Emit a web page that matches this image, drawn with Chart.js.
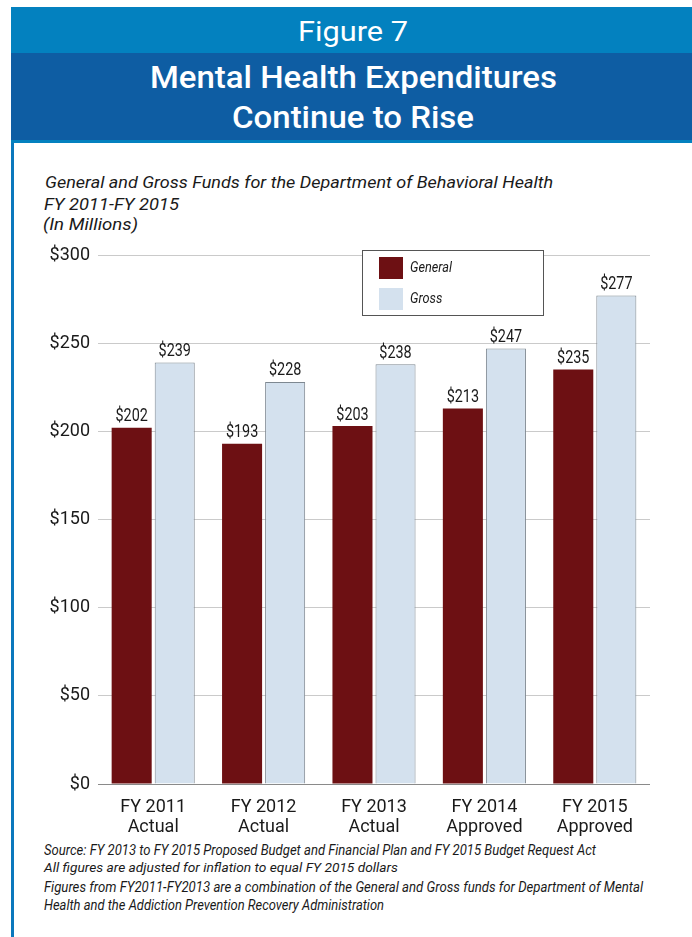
<!DOCTYPE html>
<html lang="en">
<head>
    <meta charset="UTF-8">
    <title>Figure 7 - Mental Health Expenditures</title>
    <script src="https://cdn.jsdelivr.net/npm/chart.js"></script>
    <style>
        body { margin: 0; background: #fff; width: 692px; height: 937px; position: relative; overflow: hidden; font-family: Roboto, sans-serif; }
        #band1 { position: absolute; left: 11px; top: 7px; right: 0; height: 46px; background: #0381bf; }
        #band2 { position: absolute; left: 11px; top: 53px; right: 0; height: 87px; background: #0e5da3; border-bottom: 3px solid #0381bf; }
        #edge { position: absolute; left: 11px; top: 7px; width: 3px; bottom: 0; background: #0a78bd; }
        .t { position: absolute; white-space: nowrap; transform-origin: 0 0; }
        .hd { color: #fff; }
        .it { font-style: italic; color: #1a1a1a; }
        #box { position: absolute; left: 14px; top: 230px; width: 678px; height: 609px; }
    </style>
</head>
<body>
    <div id="edge"></div>
    <div id="band1"></div>
    <div id="band2"></div>

    <div class="t hd" data-w="110" style="left:298px; top:18px; font-size:28px; line-height:28px;">Figure 7</div>
    <div class="t hd" data-w="407" style="left:150px; top:62px; font-size:31px; line-height:31px; font-weight:500;">Mental Health Expenditures</div>
    <div class="t hd" data-w="242" style="left:232px; top:102px; font-size:31px; line-height:31px; font-weight:500;">Continue to Rise</div>

    <div class="t it" data-w="508" style="left:45px; top:172px; font-size:17px; line-height:20px;">General and Gross Funds for the Department of Behavioral Health</div>
    <div class="t it" data-w="135" style="left:44px; top:194px; font-size:17px; line-height:20px;">FY 2011-FY 2015</div>
    <div class="t it" data-w="95" style="left:43px; top:214px; font-size:17px; line-height:20px;">(In Millions)</div>

    <div id="box"><canvas id="chart"></canvas></div>

    <div class="t it" data-w="552" style="left:44px; top:841px; font-size:14px; line-height:18px;">Source: FY 2013 to FY 2015 Proposed Budget and Financial Plan and FY 2015 Budget Request Act</div>
    <div class="t it" data-w="354" style="left:44px; top:859px; font-size:13px; line-height:18px;">All figures are adjusted for inflation to equal FY 2015 dollars</div>
    <div class="t it" data-w="599" style="left:44px; top:878px; font-size:14px; line-height:18px;">Figures from FY2011-FY2013 are a combination of the General and Gross funds for Department of Mental</div>
    <div class="t it" data-w="340" style="left:44px; top:896px; font-size:14px; line-height:18px;">Health and the Addiction Prevention Recovery Administration</div>

    <script>
        // chart data
        const years = ['FY 2011', 'FY 2012', 'FY 2013', 'FY 2014', 'FY 2015'];
        const status = ['Actual', 'Actual', 'Actual', 'Approved', 'Approved'];
        const generalFunds = [202, 193, 203, 213, 235];
        const grossFunds = [239, 228, 238, 247, 277];
        const yTicks = [0, 50, 100, 150, 200, 250, 300];

        // squeeze the html texts to the condensed widths of the original
        document.querySelectorAll('.t').forEach(el => {
            const w = el.getBoundingClientRect().width;
            el.style.transform = 'scaleX(' + (el.dataset.w / w) + ')';
        });

        // condensed text on the canvas
        function narrowText(ctx, text, x, y, sx) {
            ctx.save();
            ctx.translate(x, y);
            ctx.scale(sx, 1);
            ctx.fillText(text, 0, 0);
            ctx.restore();
        }

        // value labels above each bar
        const barLabels = {
            id: 'barLabels',
            afterDatasetsDraw(chart) {
                const ctx = chart.ctx;
                ctx.save();
                ctx.font = '18px Roboto';
                ctx.fillStyle = '#1a1a1a';
                ctx.textAlign = 'center';
                ctx.textBaseline = 'bottom';
                chart.data.datasets.forEach((ds, i) => {
                    chart.getDatasetMeta(i).data.forEach((bar, j) => {
                        narrowText(ctx, '$' + ds.data[j], bar.x, bar.y - 2, 0.8);
                    });
                });
                ctx.restore();
            }
        };

        // boxed legend sitting on top of the grid
        const boxLegend = {
            id: 'boxLegend',
            afterDraw(chart) {
                const ctx = chart.ctx;
                const area = chart.chartArea;
                const x = area.left + 264, y = area.top - 5, w = 181, h = 65;
                ctx.save();
                ctx.fillStyle = '#fff';
                ctx.fillRect(x, y, w, h);
                ctx.strokeStyle = '#555';
                ctx.lineWidth = 1;
                ctx.strokeRect(x + 0.5, y + 0.5, w, h);
                ctx.font = 'italic 15px Roboto';
                ctx.textBaseline = 'middle';
                chart.data.datasets.forEach((ds, i) => {
                    const sy = y + 7 + i * 31;
                    ctx.fillStyle = ds.backgroundColor;
                    ctx.fillRect(x + 17, sy, 24, 22);
                    ctx.fillStyle = '#1a1a1a';
                    narrowText(ctx, ds.label, x + 48, sy + 11, 0.85);
                });
                ctx.restore();
            }
        };

        new Chart(document.getElementById('chart'), {
            type: 'bar',
            data: {
                labels: years.map((y, i) => [y, status[i]]),
                datasets: [{
                    label: 'General',
                    data: generalFunds,
                    backgroundColor: '#6d1013',
                    borderWidth: 0,
                    categoryPercentage: 0.78,
                    barPercentage: 0.93
                }, {
                    label: 'Gross',
                    data: grossFunds,
                    backgroundColor: '#d4e1ee',
                    borderColor: '#7e8891',
                    borderWidth: 1,
                    categoryPercentage: 0.78,
                    barPercentage: 0.93
                }]
            },
            options: {
                responsive: true,
                maintainAspectRatio: false,
                animation: false,
                layout: { padding: { top: 25, right: 42, left: 0, bottom: 0 } },
                plugins: {
                    legend: { display: false },
                    tooltip: { enabled: false }
                },
                scales: {
                    x: {
                        grid: { display: false },
                        border: { display: false },
                        ticks: {
                            color: '#1a1a1a',
                            padding: 6,
                            font: { family: 'Roboto', size: 18, lineHeight: 1.1 },
                            maxRotation: 0
                        },
                        afterFit(scale) { scale.height = 55; }
                    },
                    y: {
                        min: 0,
                        max: 300,
                        border: { display: false },
                        grid: {
                            drawTicks: false,
                            color: ctx => ctx.tick && ctx.tick.value === 0 ? '#8a8a8a' : '#cacaca'
                        },
                        afterBuildTicks(scale) { scale.ticks = yTicks.map(v => ({ value: v })); },
                        ticks: {
                            color: '#1a1a1a',
                            padding: 8,
                            font: { family: 'Roboto', size: 18 },
                            callback: v => '$' + v
                        },
                        afterFit(scale) { scale.width = 84; }
                    }
                }
            },
            plugins: [barLabels, boxLegend]
        });
    </script>
</body>
</html>
